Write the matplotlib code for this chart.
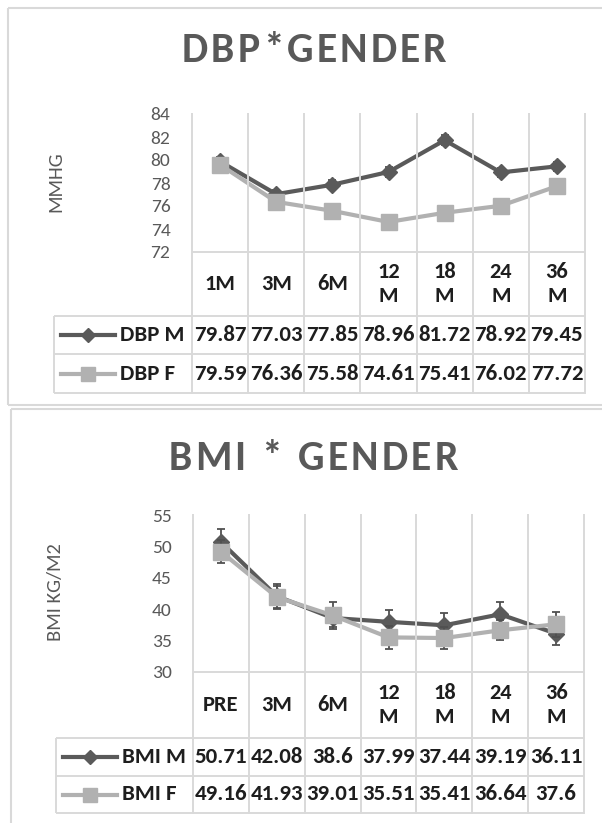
import os
import matplotlib
matplotlib.use("Agg")
import matplotlib.pyplot as plt
from matplotlib import font_manager as fm
from matplotlib.lines import Line2D
from matplotlib.transforms import blended_transform_factory

# ---------------- data ----------------
dbp_categories = ["1M", "3M", "6M", "12\nM", "18\nM", "24\nM", "36\nM"]
dbp_series_names = ["DBP M", "DBP F"]
dbp_male = [79.87, 77.03, 77.85, 78.96, 81.72, 78.92, 79.45]
dbp_female = [79.59, 76.36, 75.58, 74.61, 75.41, 76.02, 77.72]
dbp_male_err = [0.35, 0.40, 0.40, 0.45, 0.45, 0.40, 0.40]
dbp_female_err = [0.35, 0.40, 0.35, 0.40, 0.40, 0.40, 0.35]
dbp_ticks = [72, 74, 76, 78, 80, 82, 84]

bmi_categories = ["PRE", "3M", "6M", "12\nM", "18\nM", "24\nM", "36\nM"]
bmi_series_names = ["BMI M", "BMI F"]
bmi_male = [50.71, 42.08, 38.6, 37.99, 37.44, 39.19, 36.11]
bmi_female = [49.16, 41.93, 39.01, 35.51, 35.41, 36.64, 37.6]
bmi_male_err = [2.0, 2.0, 1.4, 1.9, 2.0, 2.0, 1.8]
bmi_female_err = [1.8, 1.7, 2.1, 1.8, 1.8, 1.6, 2.0]
bmi_ticks = [30, 35, 40, 45, 50, 55]

# ---------------- style ----------------
W, H, DPI = 602, 823, 100
GRID = "#d9d9d9"
MALE = "#5a5a5a"
FEMALE = "#b1b1b1"
ERR = "#505050"
AXTXT = "#595959"
TXT = "#1e1e1e"

_files = {}
for _f in fm.fontManager.ttflist:
    _files.setdefault(os.path.splitext(os.path.basename(_f.fname))[0].lower(), _f.fname)


def first_file(keys, family=None, weight="normal"):
    for k in keys:
        if k in _files:
            return _files[k]
    return fm.findfont(fm.FontProperties(family=family or "DejaVu Sans", weight=weight))


REG_PATH = first_file(["carlito-regular", "opensans-regular"], "Open Sans")
TITLE_PATH = first_file(["carlito-bold", "opensans-bold"], "Open Sans", "bold")
TABLE_PATH = first_file(["carlito-bold", "firasanscondensed-bold",
                         "barlowsemicondensed-bold", "liberationsansnarrow-bold",
                         "dejavusanscondensed-bold"], "DejaVu Sans", "bold")

fig = plt.figure(figsize=(W / DPI, H / DPI), dpi=DPI)
_renderer = fig.canvas.get_renderer()


def advance(path, size_pt, s):
    font = fm.get_font(path)
    font.set_size(size_pt, DPI)
    return sum(font.load_char(ord(c)).linearHoriAdvance / 65536 for c in s)


def glyph_height(path, size_pt, ch):
    font = fm.get_font(path)
    font.set_size(size_pt, DPI)
    return font.load_char(ord(ch)).height / 64


def size_for_height(path, ch, px):
    return 20.0 * px / glyph_height(path, 20.0, ch)


def rendered_width(path, size_pt, s):
    t = fig.text(0, 0, s, fontproperties=fm.FontProperties(fname=path, size=size_pt))
    w = t.get_window_extent(_renderer).width
    t.remove()
    return w


def size_for_width(path, s, px):
    return 20.0 * px / rendered_width(path, 20.0, s)


TICK_FP = fm.FontProperties(fname=REG_PATH, size=size_for_height(REG_PATH, "8", 14))
YLAB_FP = fm.FontProperties(fname=REG_PATH, size=size_for_height(REG_PATH, "M", 14))
_tbl = min(size_for_height(TABLE_PATH, "8", 16.5), size_for_width(TABLE_PATH, "79.87", 55))
TABLE_FP = fm.FontProperties(fname=TABLE_PATH, size=_tbl)
_cat = min(size_for_height(TABLE_PATH, "M", 14.5), size_for_width(TABLE_PATH, "PRE", 38))
CAT_FP = fm.FontProperties(fname=TABLE_PATH, size=_cat)
TITLE_PT = size_for_height(TITLE_PATH, "D", 27)
TITLE_FP = fm.FontProperties(fname=TITLE_PATH, size=TITLE_PT)
# letter spacing that gives the wide, tracked chart titles
_natural = rendered_width(TITLE_PATH, TITLE_PT, "DBP*GENDER")
ADV_SCALE = _natural / advance(TITLE_PATH, TITLE_PT, "DBP*GENDER")
TRACK = max(0.0, (265 - _natural) / 9)


def fx(px):
    return px / W


def fy(py):
    return 1 - py / H


def hline(x0, x1, y, color=GRID, lw=1.4):
    fig.add_artist(Line2D([fx(x0), fx(x1)], [fy(y), fy(y)], transform=fig.transFigure,
                          color=color, lw=lw, solid_capstyle="butt"))


def vline(x, y0, y1, color=GRID, lw=1.4):
    fig.add_artist(Line2D([fx(x), fx(x)], [fy(y0), fy(y1)], transform=fig.transFigure,
                          color=color, lw=lw, solid_capstyle="butt"))


def spaced_title(text, cx, baseline):
    adv = [advance(TITLE_PATH, TITLE_PT, ch) * ADV_SCALE for ch in text]
    total = sum(adv) + TRACK * (len(text) - 1)
    x = cx - total / 2
    for ch, a in zip(text, adv):
        if ch != " ":
            fig.text(fx(x), fy(baseline), ch, fontproperties=TITLE_FP, color=AXTXT,
                     ha="left", va="baseline")
        x += a + TRACK


def panel(g, title, cats, male, female, male_err, female_err, ticks, ylabel, names):
    L, R, T, B = g["left"], g["right"], g["top"], g["bottom"]
    ax = fig.add_axes([fx(L), fy(B), (R - L) / W, (B - T) / H])
    n = len(cats)
    x = list(range(n))
    ax.set_xlim(-0.5, n - 0.5)
    ax.set_ylim(ticks[0], ticks[-1])
    ax.set_yticks(ticks)
    ax.set_yticklabels([str(t) for t in ticks], fontproperties=TICK_FP, color=AXTXT)
    ax.set_xticks([])
    for s in ax.spines.values():
        s.set_visible(False)
    ax.tick_params(axis="y", length=0, pad=15.5)
    ax.patch.set_alpha(0)

    trans = blended_transform_factory(ax.transData, fig.transFigure)

    # grid / table lines
    for b in range(n + 1):
        xb = b - 0.5
        fig.add_artist(Line2D([xb, xb], [fy(T), fy(g["tbottom"])], transform=trans,
                              color=GRID, lw=1.4))
    hline(L, R, B)
    for yy in (g["cbottom"], g["rowsep"], g["tbottom"]):
        hline(g["tleft"], R, yy)
    vline(g["tleft"], g["cbottom"], g["tbottom"])

    # series
    ax.errorbar(x, male, yerr=male_err, fmt="none", ecolor=ERR, elinewidth=1.3,
                capsize=3, capthick=1.3, zorder=2.9, clip_on=False)
    ax.plot(x, male, color=MALE, lw=3, marker="D", ms=8, zorder=3, clip_on=False)
    ax.errorbar(x, female, yerr=female_err, fmt="none", ecolor=ERR, elinewidth=1.3,
                capsize=3, capthick=1.3, zorder=3.9, clip_on=False)
    ax.plot(x, female, color=FEMALE, lw=3, marker="s", ms=11, zorder=4, clip_on=False)

    # y label
    fig.text(fx(g["ylx"]), fy(g["yly"]), ylabel, rotation=90, rotation_mode="anchor",
             ha="center", va="center", fontproperties=YLAB_FP, color=AXTXT)

    # category row
    ccen = (B + g["cbottom"]) / 2
    for i, c in enumerate(cats):
        ax.text(i, fy(ccen), c, transform=trans, ha="center", va="center",
                fontproperties=CAT_FP, color=TXT, linespacing=1.2)

    # data table rows
    rows = [(male, names[0], MALE, "D", 7),
            (female, names[1], FEMALE, "s", 10)]
    centers = [(g["cbottom"] + g["rowsep"]) / 2, (g["rowsep"] + g["tbottom"]) / 2]
    for (vals, name, col, mk, ms), rc in zip(rows, centers):
        for i, v in enumerate(vals):
            ax.text(i, fy(rc), f"{v:g}", transform=trans, ha="center", va="center",
                    fontproperties=TABLE_FP, color=TXT)
        k0, k1 = g["key"]
        fig.add_artist(Line2D([fx(k0), fx(k1)], [fy(rc), fy(rc)], transform=fig.transFigure,
                              color=col, lw=3))
        fig.add_artist(Line2D([fx((k0 + k1) / 2)], [fy(rc)], transform=fig.transFigure,
                              color=col, marker=mk, ms=ms, lw=0))
        fig.text(fx(g["namex"]), fy(rc), name, ha="left", va="center",
                 fontproperties=TABLE_FP, color=TXT)

    spaced_title(title, g["tcx"], g["tbase"])
    return ax


# panel frames
vline(8, 8, 405, lw=1.5)
hline(8, W, 8, lw=1.5)
hline(8, W, 405, lw=1.5)
vline(11, 409, H, lw=1.5)
hline(11, W, 409, lw=1.5)

top_geom = dict(left=192, right=585, top=114, bottom=252, cbottom=316, rowsep=354,
                tbottom=393, tleft=54, key=(61, 115), namex=120, ylx=56, yly=182,
                tcx=314, tbase=62)
bottom_geom = dict(left=193, right=584, top=515, bottom=672, cbottom=738, rowsep=776,
                   tbottom=813, tleft=56, key=(63, 117), namex=122, ylx=56, yly=592,
                   tcx=313, tbase=470)

panel(top_geom, "DBP*GENDER", dbp_categories, dbp_male, dbp_female,
      dbp_male_err, dbp_female_err, dbp_ticks, "MMHG", dbp_series_names)
panel(bottom_geom, "BMI * GENDER", bmi_categories, bmi_male, bmi_female,
      bmi_male_err, bmi_female_err, bmi_ticks, "BMI KG/M2", bmi_series_names)

fig.savefig("out.png", dpi=DPI)
